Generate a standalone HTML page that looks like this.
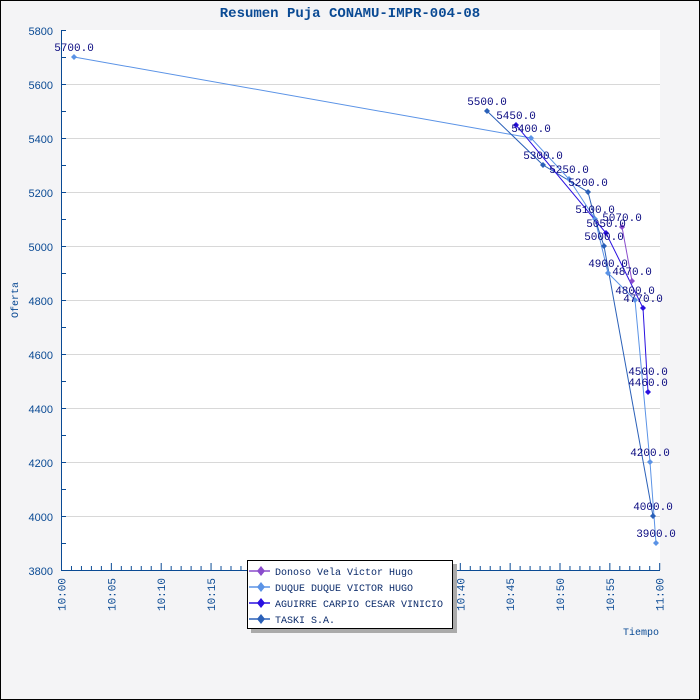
<!DOCTYPE html>
<html><head><style>body{margin:0}svg{display:block}</style></head><body>
<svg width="700" height="700" xmlns="http://www.w3.org/2000/svg" font-family="Liberation Mono, monospace">
<rect x="0.5" y="0.5" width="699" height="699" fill="#f4f4f6" stroke="#000"/>
<rect x="61" y="30" width="599" height="540" fill="#fff"/>
<text x="350" y="17" text-anchor="middle" font-size="14" font-weight="bold" fill="#0a4a94">Resumen Puja CONAMU-IMPR-004-08</text>
<g stroke="#d8d8d8" stroke-width="1">
<line x1="61" x2="660" y1="84.5" y2="84.5"/><line x1="61" x2="660" y1="138.5" y2="138.5"/><line x1="61" x2="660" y1="192.5" y2="192.5"/><line x1="61" x2="660" y1="246.5" y2="246.5"/><line x1="61" x2="660" y1="300.5" y2="300.5"/><line x1="61" x2="660" y1="354.5" y2="354.5"/><line x1="61" x2="660" y1="408.5" y2="408.5"/><line x1="61" x2="660" y1="462.5" y2="462.5"/><line x1="61" x2="660" y1="516.5" y2="516.5"/>
</g>
<g stroke="#0a4a94" stroke-width="1">
<line x1="61.5" y1="30" x2="61.5" y2="570"/><line x1="61" y1="570.5" x2="660" y2="570.5"/>
<path d="M61 30.5h5M61 57.5h5M61 84.5h5M61 111.5h5M61 138.5h5M61 165.5h5M61 192.5h5M61 219.5h5M61 246.5h5M61 273.5h5M61 300.5h5M61 327.5h5M61 354.5h5M61 381.5h5M61 408.5h5M61 435.5h5M61 462.5h5M61 489.5h5M61 516.5h5M61 543.5h5"/>
</g>
<g id="xticks" stroke="#0a4a94"></g>
<g font-family="Liberation Sans, sans-serif" font-size="11" fill="#0a4a94" text-anchor="end">
<text x="53" y="35">5800</text><text x="53" y="89">5600</text><text x="53" y="143">5400</text><text x="53" y="197">5200</text><text x="53" y="251">5000</text><text x="53" y="305">4800</text><text x="53" y="359">4600</text><text x="53" y="413">4400</text><text x="53" y="467">4200</text><text x="53" y="521">4000</text><text x="53" y="575">3800</text>
</g>
<g font-size="11" fill="#0a4a94" text-anchor="end" id="xl"></g>
<text transform="translate(18,300) rotate(-90)" text-anchor="middle" font-size="10" fill="#0a4a94">Oferta</text>
<text x="641" y="635" text-anchor="middle" font-size="10" fill="#0a4a94">Tiempo</text>
<g fill="none" stroke-width="1">
<polyline stroke="#5b93e6" points="74,57 531,138 569,179 595,219 608,273 635,300 650,462 656,543"/>
<polyline stroke="#2a60b8" points="487,111 543,165 588,192 595,219 604,246 653,516"/>
<polyline stroke="#2a10e0" points="516,125 606,233 643,308 648,392"/>
<polyline stroke="#8a4ccc" points="622,227 632,281"/>
</g>
<g id="pts"></g>
<g font-size="11" fill="#0a0a80" text-anchor="middle">
<text x="74" y="51">5700.0</text>
<text x="487" y="105">5500.0</text><text x="516" y="119">5450.0</text><text x="531" y="132">5400.0</text>
<text x="543" y="159">5300.0</text><text x="569" y="173">5250.0</text><text x="588" y="186">5200.0</text>
<text x="595" y="213">5100.0</text><text x="622" y="221">5070.0</text><text x="606" y="227">5050.0</text>
<text x="604" y="240">5000.0</text><text x="608" y="267">4900.0</text><text x="632" y="275">4870.0</text>
<text x="635" y="294">4800.0</text><text x="643" y="302">4770.0</text><text x="648" y="375">4500.0</text>
<text x="648" y="386">4460.0</text><text x="650" y="456">4200.0</text><text x="653" y="510">4000.0</text><text x="656" y="537">3900.0</text>
</g>
<rect x="251" y="564" width="206" height="69" fill="#aaa"/>
<rect x="247.5" y="560.5" width="205" height="68" fill="#fff" stroke="#000"/>
<g stroke-width="1.5">
<line x1="249" x2="270" y1="571" y2="571" stroke="#8a4ccc"/><line x1="249" x2="270" y1="587" y2="587" stroke="#5b93e6"/><line x1="249" x2="270" y1="603" y2="603" stroke="#2a10e0"/><line x1="249" x2="270" y1="619" y2="619" stroke="#2a60b8"/>
</g>
<path d="M257 571l4-5 4 5-4 5z" fill="#8a4ccc"/><path d="M257 587l4-5 4 5-4 5z" fill="#5b93e6"/><path d="M257 603l4-5 4 5-4 5z" fill="#2a10e0"/><path d="M257 619l4-5 4 5-4 5z" fill="#2a60b8"/>
<g font-size="10" fill="#0a2a6a">
<text x="275" y="575">Donoso Vela Victor Hugo</text><text x="275" y="591">DUQUE DUQUE VICTOR HUGO</text><text x="275" y="607">AGUIRRE CARPIO CESAR VINICIO</text><text x="275" y="623">TASKI S.A.</text>
</g>
</svg>
<script>
var ns="http://www.w3.org/2000/svg",g=document.getElementById("xticks"),xl=document.getElementById("xl");
for(var m=0;m<=60;m++){var x=61.5+m*9.97;var l=document.createElementNS(ns,"line");l.setAttribute("x1",x);l.setAttribute("x2",x);l.setAttribute("y1",m%5?566:563);l.setAttribute("y2",570);g.appendChild(l);
if(m%5==0){var t=document.createElementNS(ns,"text");t.setAttribute("transform","translate("+(x+4)+",578) rotate(-90)");t.textContent=m==60?"11:00":"10:"+(m<10?"0":"")+m;xl.appendChild(t);}}
var P=document.getElementById("pts"),pts=[["#5b93e6",[[74,57],[531,138],[569,179],[595,219],[608,273],[635,300],[650,462],[656,543]]],["#2a60b8",[[487,111],[543,165],[588,192],[604,246],[653,516]]],["#2a10e0",[[516,125],[606,233],[643,308],[648,392]]],["#8a4ccc",[[622,227],[632,281]]]];
pts.forEach(function(s){s[1].forEach(function(p){var d=document.createElementNS(ns,"path");d.setAttribute("d","M"+(p[0]-3)+" "+p[1]+"l3-3 3 3-3 3z");d.setAttribute("fill",s[0]);P.appendChild(d);});});
</script>
</body></html>
